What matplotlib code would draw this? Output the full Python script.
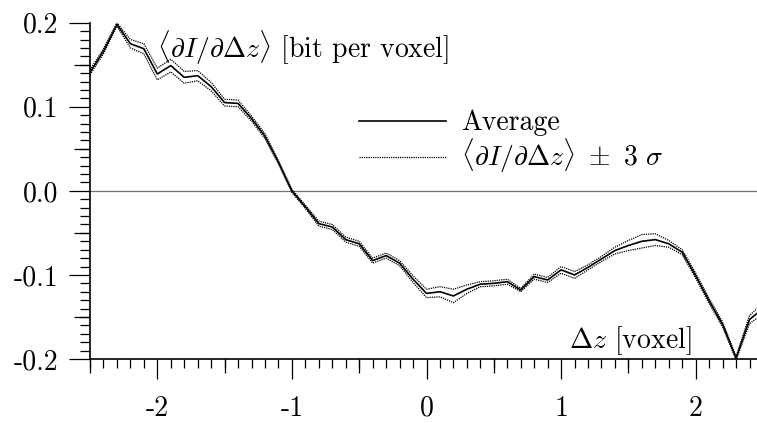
import numpy as np
import matplotlib
matplotlib.use("Agg")
import matplotlib.pyplot as plt
from matplotlib.ticker import MultipleLocator, FixedLocator, NullFormatter

plt.rcParams['font.family'] = 'serif'
plt.rcParams['font.serif'] = ['cmr10']
plt.rcParams['mathtext.fontset'] = 'cm'
plt.rcParams['axes.unicode_minus'] = False
plt.rcParams['axes.formatter.use_mathtext'] = False

FONT_SIZE = 20

# shift dz [voxel]
dz = [-2.5, -2.4, -2.3, -2.2, -2.1, -2.0, -1.9, -1.8, -1.7, -1.6,
      -1.5, -1.4, -1.3, -1.2, -1.1, -1.0, -0.9, -0.8, -0.7, -0.6,
      -0.5, -0.4, -0.3, -0.2, -0.1, 0.0, 0.1, 0.2, 0.3, 0.4,
      0.5, 0.6, 0.7, 0.8, 0.9, 1.0, 1.1, 1.2, 1.3, 1.4,
      1.5, 1.6, 1.7, 1.8, 1.9, 2.0, 2.1, 2.2, 2.3, 2.4, 2.5]

# average dI/ddz [bit per voxel]
average = [0.141, 0.166, 0.198, 0.175, 0.169, 0.139, 0.149, 0.135, 0.137, 0.124,
           0.105, 0.104, 0.086, 0.065, 0.034, 0.000, -0.019, -0.039, -0.043, -0.058,
           -0.063, -0.083, -0.077, -0.086, -0.105, -0.122, -0.120, -0.125, -0.117, -0.111,
           -0.110, -0.108, -0.118, -0.102, -0.106, -0.094, -0.100, -0.091, -0.081, -0.071,
           -0.065, -0.060, -0.058, -0.063, -0.073, -0.101, -0.131, -0.159, -0.199, -0.153, -0.140]

# 3 sigma
three_sigma = [0.003, 0.003, 0.002, 0.005, 0.006, 0.007, 0.0075, 0.007, 0.006, 0.005,
               0.004, 0.004, 0.003, 0.003, 0.002, 0.002, 0.002, 0.003, 0.003, 0.003,
               0.003, 0.003, 0.003, 0.003, 0.004, 0.005, 0.006, 0.008, 0.005, 0.003,
               0.003, 0.003, 0.002, 0.003, 0.003, 0.004, 0.004, 0.003, 0.003, 0.004,
               0.006, 0.008, 0.007, 0.004, 0.003, 0.003, 0.003, 0.003, 0.002, 0.005, 0.006]

x = np.array(dz)
avg = np.array(average)
sig = np.array(three_sigma)

fig = plt.figure(figsize=(7.57, 4.23), dpi=100)
ax = fig.add_axes([90 / 757, 1 - 359 / 423, 673 / 757, 336.3 / 423])

ax.axhline(0, color='0.45', lw=0.9, zorder=1)
ax.plot(x, avg, color='black', lw=1.2, label='Average', zorder=3)
ax.plot(x, avg + sig, color='black', lw=0.9, ls=(0, (1, 0.8)),
        label=r'$\langle\partial I/\partial\Delta z\rangle\ \pm\ 3\ \sigma$', zorder=2)
ax.plot(x, avg - sig, color='black', lw=0.9, ls=(0, (1, 0.8)), zorder=2)

ax.set_xlim(-2.5, 2.5)
ax.set_ylim(-0.2, 0.2)

for side in ['top', 'right']:
    ax.spines[side].set_visible(False)
for side in ['left', 'bottom']:
    ax.spines[side].set_linewidth(1.2)

ax.xaxis.set_major_locator(MultipleLocator(1))
ax.xaxis.set_minor_locator(MultipleLocator(0.1))
ax.yaxis.set_major_locator(MultipleLocator(0.1))
ax.yaxis.set_minor_locator(MultipleLocator(0.01))
ax.yaxis.set_major_formatter(lambda v, p: "%.1f" % v)
ax.xaxis.set_major_formatter(lambda v, p: "%d" % round(v))

ax.tick_params(axis='x', which='major', direction='out', length=14.4, width=0.9,
               pad=12, labelsize=FONT_SIZE)
ax.tick_params(axis='x', which='minor', direction='out', length=6.5, width=0.9)
ax.tick_params(axis='y', which='major', direction='out', length=15, width=0.9,
               pad=8, labelsize=FONT_SIZE)
ax.tick_params(axis='y', which='minor', direction='out', length=7.2, width=0.9)

# medium ticks at the half steps
secx = ax.secondary_xaxis('bottom')
secx.xaxis.set_major_locator(FixedLocator([-2.5, -1.5, -0.5, 0.5, 1.5, 2.5]))
secx.xaxis.set_major_formatter(NullFormatter())
secx.tick_params(direction='out', length=10, width=0.9)
secx.spines['bottom'].set_visible(False)

secy = ax.secondary_yaxis('left')
secy.yaxis.set_major_locator(FixedLocator([-0.15, -0.05, 0.05, 0.15]))
secy.yaxis.set_major_formatter(NullFormatter())
secy.tick_params(direction='out', length=11.5, width=0.9)
secy.spines['left'].set_visible(False)

ax.text(-2.0, 0.158, r'$\langle\partial I/\partial\Delta z\rangle$ [bit per voxel]',
        fontsize=FONT_SIZE, ha='left', va='baseline')
ax.text(1.97, -0.1865, r'$\Delta z$ [voxel]', fontsize=FONT_SIZE, ha='right', va='baseline')

ax.legend(loc='upper left', bbox_to_anchor=(359 / 757, 1 - 110 / 423),
          bbox_transform=fig.transFigure, frameon=False, fontsize=FONT_SIZE,
          handlelength=3.13, handletextpad=0.55, labelspacing=0.0, borderpad=0,
          borderaxespad=0)

fig.savefig("out.png", dpi=100)
